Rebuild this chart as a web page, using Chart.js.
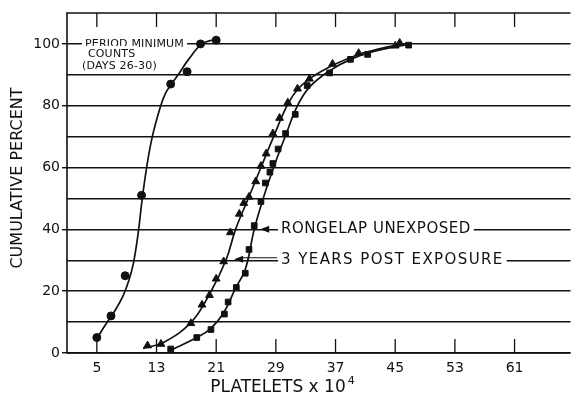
<!DOCTYPE html>
<html>
<head>
<meta charset="utf-8">
<script src="https://cdn.jsdelivr.net/npm/chart.js@4/dist/chart.umd.min.js"></script>
<style>
  html, body { margin: 0; background: #fff; }
</style>
</head>
<body>
<canvas id="grafik" width="576" height="396"></canvas>
<script>
// titik-titik data
const periodX = [5, 6.9, 8.8, 11, 14.9, 17.1, 18.9, 21];
const periodY = [5, 12, 25, 51, 87, 91, 100, 101.2];
const periodCurveX = [5, 6.2, 7.4, 8.5, 9.3, 9.9, 10.5, 11.06, 11.65, 12.4, 13.5, 14.2, 15, 15.9, 17.3, 19.1, 20.9];
const periodCurveY = [4.7, 9.3, 13.6, 18.4, 23.5, 29, 38, 49.4, 59.6, 69.6, 79.5, 84, 87, 90, 95, 100, 101.5];

const postX = [11.8, 13.6, 17.6, 19.1, 20.1, 21, 22, 22.9, 24.1, 24.7, 25.4, 26.3, 27, 27.7, 28.6, 29.5, 30.6, 31.9, 33.5, 36.6, 40.1, 45, 45.6];
const postY = [2.4, 2.9, 9.6, 15.6, 18.7, 24, 29.6, 39, 45, 48.5, 50.5, 55.5, 60.5, 64.5, 71, 76, 81, 85.5, 88.7, 93.5, 97, 99.4, 100.3];
const postCurveX = [11.2, 14, 17.6, 20.1, 22.3, 23.6, 25.3, 27, 28.7, 30.5, 32, 34, 37, 40, 43, 46];
const postCurveY = [1.5, 3.5, 9.8, 19, 30, 40, 50, 60, 70, 80, 85.5, 89.5, 93.5, 96.5, 98.5, 100];

const unexpX = [14.9, 18.4, 20.3, 22.1, 22.6, 23.7, 24.9, 25.4, 26.1, 27, 27.6, 28.2, 28.6, 29.3, 30.3, 31.6, 33.2, 36.2, 39, 41.3, 46.8];
const unexpY = [1.3, 5, 7.6, 12.6, 16.5, 21.2, 25.8, 33.5, 41.2, 49, 55, 58.5, 61.3, 66, 71, 77.2, 86.5, 90.6, 95, 96.6, 99.6];
const unexpCurveX = [15, 18.4, 20.3, 22, 23.6, 24.9, 26.1, 27.3, 28.7, 30.4, 31.9, 33.5, 36, 39, 42, 47];
const unexpCurveY = [1, 5, 8, 13, 21, 27, 40, 50, 60, 71, 80, 86, 91, 95, 97.5, 100];

const xTicks = [5, 13, 21, 29, 37, 45, 53, 61];
const yGrid = [0, 10, 20, 30, 40, 50, 60, 70, 80, 90, 100];
const yLabels = [0, 20, 40, 60, 80, 100];

const hitam = '#111';
const fontDasar = '"DejaVu Sans", sans-serif';

function gabung(xs, ys){
    return xs.map((x, i) => ({x: x, y: ys[i]}));
}

function kurva(xs, ys){
    return {
        data: gabung(xs, ys),
        showLine: true,
        pointRadius: 0,
        borderColor: hitam,
        borderWidth: 1.7,
        tension: 0.4
    };
}

function titik(xs, ys, gaya, r){
    return {
        data: gabung(xs, ys),
        showLine: false,
        pointStyle: gaya,
        pointRadius: r,
        backgroundColor: hitam,
        borderColor: hitam,
        borderWidth: 1
    };
}

function tulisLabel(ctx, teks, x, y, font, jarak){
    ctx.font = font;
    ctx.letterSpacing = (jarak || 0) + 'px';
    const w = ctx.measureText(teks).width;
    ctx.fillStyle = '#fff';
    ctx.fillRect(x - 3, y - 8, w + 6, 16);
    ctx.fillStyle = hitam;
    ctx.textAlign = 'left';
    ctx.textBaseline = 'middle';
    ctx.fillText(teks, x, y);
    ctx.letterSpacing = '0px';
    return w;
}

function panah(ctx, xTip, y, arah){
    ctx.beginPath();
    ctx.moveTo(xTip, y);
    ctx.lineTo(xTip + 9 * arah, y - 3.5);
    ctx.lineTo(xTip + 9 * arah, y + 3.5);
    ctx.closePath();
    ctx.fill();
}

const pluginBingkai = {
    id: 'bingkai',
    beforeDatasetsDraw(chart){
        const {ctx, chartArea: a, scales: {x, y}} = chart;
        ctx.save();
        ctx.strokeStyle = hitam;
        ctx.fillStyle = hitam;
        ctx.lineWidth = 1.6;

        // garis tepi atas, kiri, bawah
        ctx.beginPath();
        ctx.moveTo(a.right, a.top);
        ctx.lineTo(a.left, a.top);
        ctx.lineTo(a.left, a.bottom);
        ctx.lineTo(a.right, a.bottom);
        ctx.stroke();

        // tanda tick di dalam (atas dan bawah)
        ctx.lineWidth = 1.3;
        xTicks.forEach(v => {
            const px = x.getPixelForValue(v);
            ctx.beginPath();
            ctx.moveTo(px, a.top);
            ctx.lineTo(px, a.top + 14);
            ctx.moveTo(px, a.bottom);
            ctx.lineTo(px, a.bottom - 14);
            ctx.stroke();
        });

        // label keterangan
        const y100 = y.getPixelForValue(100);
        const fKecil = '11px ' + fontDasar;
        tulisLabel(ctx, 'PERIOD MINIMUM', x.getPixelForValue(3.4), y100, fKecil, 0.2);
        tulisLabel(ctx, 'COUNTS', x.getPixelForValue(3.8), y100 + 10, fKecil, 0.2);
        tulisLabel(ctx, '(DAYS 26-30)', x.getPixelForValue(3.0), y100 + 22, fKecil, 0.2);

        const fBesar = '15px ' + fontDasar;
        const y40 = y.getPixelForValue(40);
        const y30 = y.getPixelForValue(30);
        const xl = x.getPixelForValue(29.7);
        tulisLabel(ctx, 'RONGELAP UNEXPOSED', xl, y40, fBesar, 0.5);
        tulisLabel(ctx, '3 YEARS POST EXPOSURE', xl, y30, fBesar, 1.4);

        ctx.fillStyle = hitam;
        panah(ctx, x.getPixelForValue(26.9), y40, 1);
        const tip3 = x.getPixelForValue(23.4);
        panah(ctx, tip3, y30 - 1, 1);
        ctx.lineWidth = 1.1;
        ctx.beginPath();
        ctx.moveTo(tip3 + 6, y30 - 2.5);
        ctx.lineTo(xl - 4, y30 - 2.5);
        ctx.stroke();

        // judul sumbu
        ctx.fillStyle = hitam;
        ctx.textAlign = 'center';
        ctx.textBaseline = 'middle';
        ctx.font = '16px ' + fontDasar;
        ctx.save();
        ctx.translate(18, 178);
        ctx.rotate(-Math.PI / 2);
        ctx.fillText('CUMULATIVE PERCENT', 0, 0);
        ctx.restore();

        ctx.font = '17px ' + fontDasar;
        ctx.textAlign = 'left';
        const judul = 'PLATELETS x 10';
        const wj = ctx.measureText(judul).width;
        const x0 = 278 - wj / 2;
        ctx.fillText(judul, x0, 388);
        ctx.font = '11px ' + fontDasar;
        ctx.fillText('4', x0 + wj + 2, 381);
        ctx.restore();
    }
};

new Chart(document.getElementById('grafik'), {
    type: 'scatter',
    data: {
        datasets: [
            kurva(periodCurveX, periodCurveY),
            kurva(postCurveX, postCurveY),
            kurva(unexpCurveX, unexpCurveY),
            titik(periodX, periodY, 'circle', 4),
            titik(postX, postY, 'triangle', 4.5),
            titik(unexpX, unexpY, 'rect', 4)
        ]
    },
    options: {
        responsive: false,
        animation: false,
        layout: {padding: {top: 13, right: 0, left: 0, bottom: 0}},
        plugins: {legend: {display: false}, tooltip: {enabled: false}},
        scales: {
            x: {
                type: 'linear',
                min: 1,
                max: 68.5,
                grid: {display: false},
                border: {display: false},
                afterBuildTicks: s => { s.ticks = xTicks.map(v => ({value: v})); },
                afterFit: s => { s.height = 43; },
                ticks: {
                    padding: -1,
                    color: hitam,
                    font: {family: fontDasar, size: 14}
                }
            },
            y: {
                min: 0,
                max: 110,
                border: {display: false},
                afterBuildTicks: s => { s.ticks = yGrid.map(v => ({value: v})); },
                afterFit: s => { s.width = 67; },
                grid: {
                    color: hitam,
                    lineWidth: 1.4,
                    tickLength: 5,
                    tickColor: c => yLabels.includes(c.tick && c.tick.value) ? hitam : 'rgba(0,0,0,0)'
                },
                ticks: {
                    padding: 2,
                    color: hitam,
                    font: {family: fontDasar, size: 14},
                    callback: v => yLabels.includes(v) ? String(v) : ''
                }
            }
        }
    },
    plugins: [pluginBingkai]
});
</script>
</body>
</html>
